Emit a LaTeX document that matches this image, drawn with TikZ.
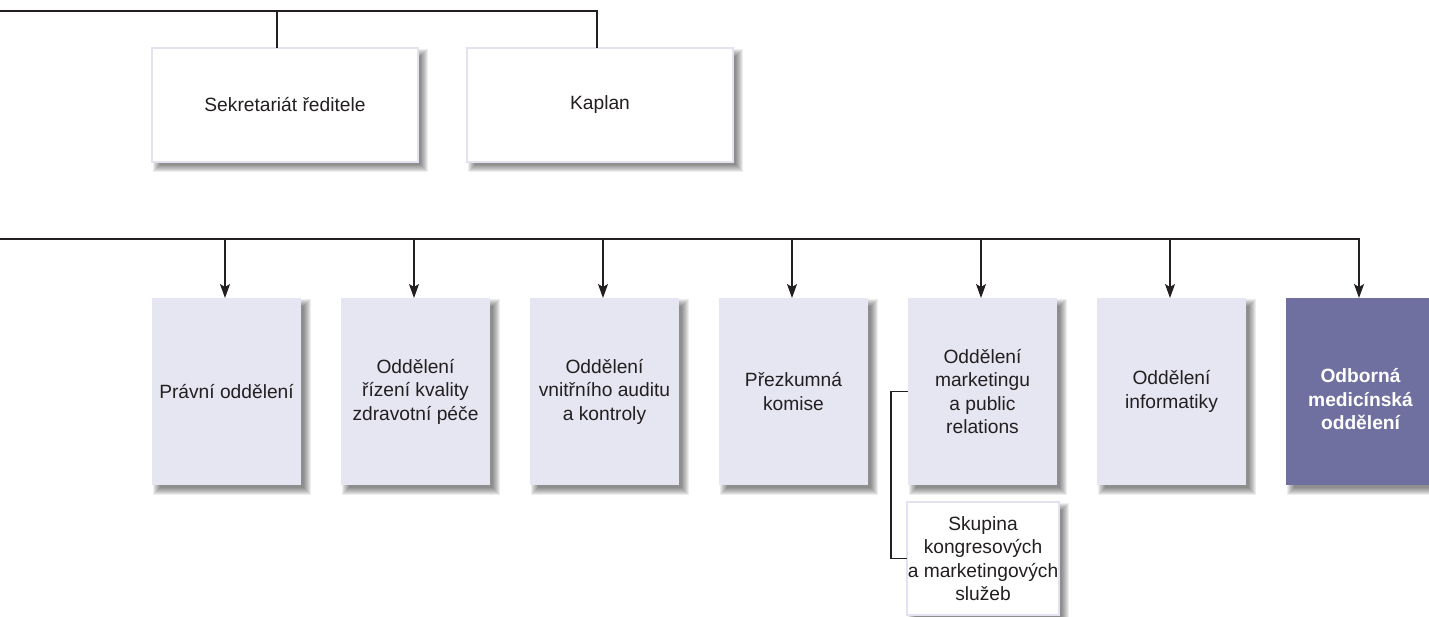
\documentclass[tikz,border=0pt]{standalone}
\usepackage{fontspec}
\setmainfont{Liberation Sans}
\usetikzlibrary{arrows.meta,calc,backgrounds}
\definecolor{boxfill}{RGB}{230,230,242}
\definecolor{boxline}{RGB}{226,226,240}
\definecolor{purp}{RGB}{112,112,160}
\definecolor{ink}{RGB}{35,31,32}
\definecolor{wirec}{RGB}{35,31,32}
\begin{document}
\begin{tikzpicture}[x=1pt,y=-1pt,
  every node/.style={font=\fontsize{19.2}{23.5}\selectfont, text=ink, align=center, inner sep=0pt, outer sep=0pt},
  whitebox/.style={draw=boxline, line width=2pt, fill=white, minimum width=266pt, minimum height=114pt},
  dept/.style={fill=boxfill, minimum width=149pt, minimum height=187pt},
  subbox/.style={draw=boxline, line width=2pt, fill=white, minimum width=152pt, minimum height=113pt},
  wire/.style={draw=wirec, line width=1.2pt},
  arr/.style={wire, -{Stealth[length=14pt,width=10pt,inset=3pt]}}
]
\useasboundingbox (0,0) rectangle (1429,616);
% top level boxes
\node[whitebox] (sekr) at (285,105) {\raisebox{-2pt}{Sekretariát ředitele}};
\node[whitebox] (kap) at (600,105) {\raisebox{-3pt}{Kaplan}};
% departments
\node[dept] (d1) at (226.5,391.5) {Právní oddělení};
\node[dept] (d2) at (415.5,391.5) {Oddělení\\řízení kvality\\zdravotní péče};
\node[dept] (d3) at (604.5,391.5) {Oddělení\\vnitřního auditu\\a kontroly};
\node[dept] (d4) at (793.5,391.5) {Přezkumná\\komise};
\node[dept] (d5) at (982.5,391.5) {Oddělení\\marketingu\\a public\\relations};
\node[dept] (d6) at (1171.5,391.5) {Oddělení\\informatiky};
\node[dept, fill=purp, label={[text=white, font=\fontsize{19.2}{23.5}\selectfont\bfseries, yshift=-8pt]center:Odborná\\medicínská\\oddělení}] (d7) at (1360.5,391.5) {};
\node[subbox] (skup) at (983,558.5) {Skupina\\kongresových\\a marketingových\\služeb};
% shadows
\begin{scope}[on background layer]
\foreach \n in {sekr,kap,d1,d2,d3,d4,d5,d6,d7,skup}{
  \foreach \r in {0,...,7}{
    \fill[black,opacity=0.07] ($(\n.north west)+(1+\r,1+\r)$) rectangle ($(\n.south east)+(10-\r,10-\r)$);
  }
}
\end{scope}
% connectors
\coordinate (topL) at (0,11);
\coordinate (midL) at (0,239);
\draw[wire] (topL) -| ([xshift=-3pt]kap.north);
\draw[wire] ([xshift=-8pt]sekr.north |- topL) -- ([xshift=-8pt]sekr.north);
\draw[arr] (midL) -| ([xshift=-1.5pt]d7.north);
\foreach \n in {d1,d2,d3,d4,d5,d6}{
  \draw[arr] ([xshift=-1.5pt]\n.north |- midL) -- ([xshift=-1.5pt]\n.north);
}
\draw[wire] (d5.west) -- ++(-17,0) |- (skup.west);
\end{tikzpicture}
\end{document}
